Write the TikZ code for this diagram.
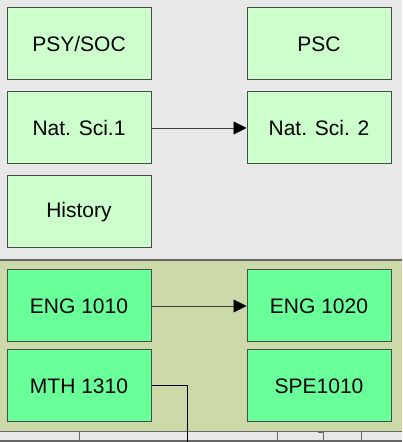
\documentclass[tikz,border=0pt]{standalone}
\usepackage{fontspec}
\setmainfont{Liberation Sans}
\usepackage{tikz}
\usetikzlibrary{arrows.meta,positioning}
\definecolor{bggray}{HTML}{E8E8E8}
\definecolor{bandolive}{HTML}{CCDAAA}
\definecolor{palegreen}{HTML}{CCFFCC}
\definecolor{brightgreen}{HTML}{69FF99}
\definecolor{edgegray}{HTML}{4A4A4A}
\tikzset{
  course/.style={draw=edgegray,line width=1pt,minimum width=144pt,minimum height=72pt,
    inner sep=0pt,font=\fontsize{21}{25}\selectfont},
  gened/.style={course,fill=palegreen},
  core/.style={course,fill=brightgreen},
  prereq/.style={draw=black!75,line width=0.9pt,
    -{Triangle[length=13pt,width=13pt,color=black,fill=black]}},
  lane/.style={draw=gray!80!black,line width=1pt}
}
\begin{document}
\begin{tikzpicture}[x=1pt,y=1pt]
  % background + band
  \fill[bggray] (0,0) rectangle (402,442);
  \useasboundingbox (0,0) rectangle (402,442);
  \fill[bandolive] (0,10) rectangle (402,182);
  \draw[lane,line width=2pt] (0,182) -- (402,182);
  \draw[lane] (0,10) -- (402,10);
  \draw[lane,line width=1.5pt] (0,1) -- (402,1);
  % general education
  \node[gened] (psysoc) at (79,398) {PSY/SOC};
  \node[gened] (psc) at (319,398) {PSC};
  \node[gened] (natsci1) at (79,314) {Nat. Sci.1};
  \node[gened] (natsci2) at (319,314) {Nat. Sci. 2};
  \node[gened] (history) at (79,230) {History};
  % first year core
  \node[core] (eng1010) at (79,136) {ENG 1010};
  \node[core] (eng1020) at (319,136) {ENG 1020};
  \node[core] (mth1310) at (79,56) {MTH 1310};
  \node[core] (spe1010) at (319,56) {SPE1010};
  % prerequisites
  \draw[prereq] (natsci1) -- (natsci2);
  \draw[prereq] (eng1010) -- (eng1020);
  \coordinate (mthout) at (187,0);
  \draw[line width=1pt] (mth1310.east) -| (mthout);
  % lines running on below
  \foreach \X in {79,277,361} \draw[lane] (\X,10) -- (\X,0);
  \draw[lane] (318,9) -- (323,9) -- (323,0);
\end{tikzpicture}
\end{document}
